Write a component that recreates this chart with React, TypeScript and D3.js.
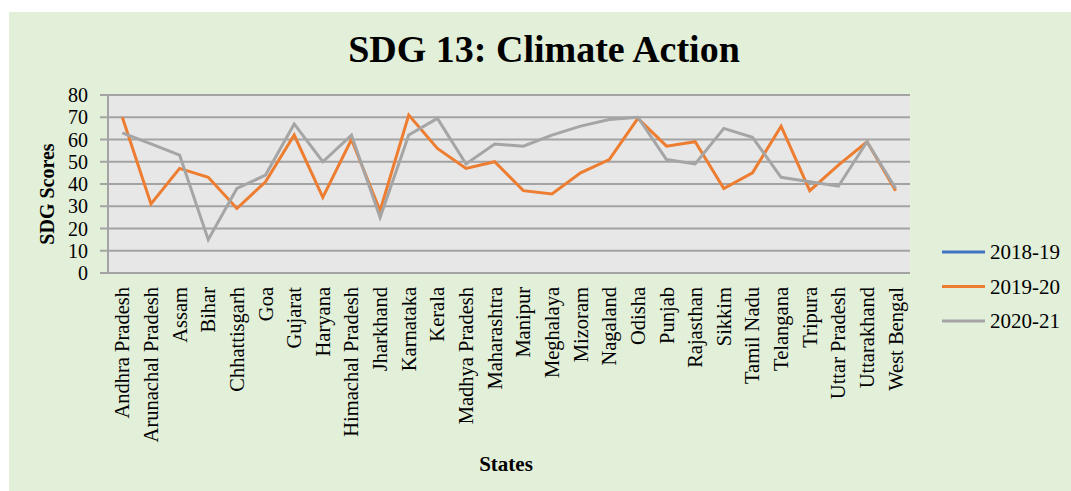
import { useEffect, useRef } from 'react';
import * as d3 from 'd3';

const states = [
  'Andhra Pradesh', 'Arunachal Pradesh', 'Assam', 'Bihar', 'Chhattisgarh', 'Goa', 'Gujarat',
  'Haryana', 'Himachal Pradesh', 'Jharkhand', 'Karnataka', 'Kerala', 'Madhya Pradesh',
  'Maharashtra', 'Manipur', 'Meghalaya', 'Mizoram', 'Nagaland', 'Odisha', 'Punjab',
  'Rajasthan', 'Sikkim', 'Tamil Nadu', 'Telangana', 'Tripura', 'Uttar Pradesh',
  'Uttarakhand', 'West Bengal',
];

// 2018-19 is in the legend but has no visible line in the source
const scores2018_19: number[] = [];
const scores2019_20 = [70, 31, 47, 43, 29, 41, 62, 34, 60, 28, 71, 56, 47, 50, 37, 35.5, 45, 51, 69.5, 57, 59, 38, 45, 66, 37, 48.5, 59, 37];
const scores2020_21 = [63, 58, 53, 15, 38, 44, 67, 50, 62, 25, 62, 69.5, 49, 58, 57, 62, 66, 69, 70, 51, 49, 65, 61, 43, 41, 39, 59, 38];

const yTicks = [0, 10, 20, 30, 40, 50, 60, 70, 80];

const series = [
  { name: '2018-19', values: scores2018_19, color: '#4472C4' },
  { name: '2019-20', values: scores2019_20, color: '#ED7D31' },
  { name: '2020-21', values: scores2020_21, color: '#A5A5A5' },
];

const W = 1071, H = 491;
const FONT = '"Liberation Serif", "Times New Roman", serif';

export default function App() {
  const svgRef = useRef<SVGSVGElement>(null);

  useEffect(() => {
    const svg = d3.select(svgRef.current);
    svg.selectAll('*').remove();

    const left = 108, right = 910, top = 95, bottom = 273;
    const x = d3.scaleBand<string>().domain(states).range([left, right]).padding(0);
    const y = d3.scaleLinear().domain([0, 80]).range([bottom, top]);
    const cx = (s: string) => (x(s) ?? 0) + x.bandwidth() / 2;

    // panel background
    svg.append('rect').attr('x', 9).attr('y', 12).attr('width', W - 9).attr('height', H - 12)
      .attr('fill', '#E2EFD9');

    // title
    svg.append('text').attr('x', 544).attr('y', 62).attr('text-anchor', 'middle')
      .attr('font-family', FONT).attr('font-weight', 700).attr('font-size', 38)
      .attr('fill', '#000').text('SDG 13: Climate Action');

    // plot area
    svg.append('rect').attr('x', left).attr('y', top).attr('width', right - left).attr('height', bottom - top)
      .attr('fill', '#E7E7E7');

    const g = svg.append('g');
    g.selectAll('.grid').data(yTicks).join('line').attr('class', 'grid')
      .attr('x1', left - 8).attr('x2', right)
      .attr('y1', d => y(d)).attr('y2', d => y(d))
      .attr('stroke', '#A3A3A3').attr('stroke-width', 2);
    g.append('line').attr('x1', left).attr('x2', left).attr('y1', top).attr('y2', bottom)
      .attr('stroke', '#A3A3A3').attr('stroke-width', 2);

    g.selectAll('.ylab').data(yTicks).join('text').attr('class', 'ylab')
      .attr('x', 88).attr('y', d => y(d)).attr('dy', '0.35em').attr('text-anchor', 'end')
      .attr('font-family', FONT).attr('font-size', 20).attr('fill', '#000')
      .text(d => d);

    // y axis title
    svg.append('text').attr('transform', `translate(54,194) rotate(-90)`).attr('text-anchor', 'middle')
      .attr('font-family', FONT).attr('font-weight', 700).attr('font-size', 20).attr('fill', '#000')
      .text('SDG Scores');

    // category labels
    g.selectAll('.xlab').data(states).join('text').attr('class', 'xlab')
      .attr('transform', d => `translate(${cx(d) + 7},287) rotate(-90)`)
      .attr('text-anchor', 'end')
      .attr('font-family', FONT).attr('font-size', 20.5).attr('fill', '#000')
      .text(d => d);

    svg.append('text').attr('x', 506).attr('y', 471).attr('text-anchor', 'middle')
      .attr('font-family', FONT).attr('font-weight', 700).attr('font-size', 21).attr('fill', '#000')
      .text('States');

    // lines
    const line = d3.line<number>()
      .x((_, i) => cx(states[i]))
      .y(d => y(d));
    series.forEach(s => {
      if (!s.values.length) return;
      g.append('path').datum(s.values).attr('d', line)
        .attr('fill', 'none').attr('stroke', s.color).attr('stroke-width', 3)
        .attr('stroke-linejoin', 'miter');
    });

    // legend
    const leg = svg.append('g').attr('transform', 'translate(942,252)');
    series.forEach((s, i) => {
      leg.append('line').attr('x1', 0).attr('x2', 43).attr('y1', i * 34.5).attr('y2', i * 34.5)
        .attr('stroke', s.color).attr('stroke-width', 3);
      leg.append('text').attr('x', 48).attr('y', i * 34.5).attr('dy', '0.35em')
        .attr('font-family', FONT).attr('font-size', 21).attr('fill', '#000')
        .text(s.name);
    });
  }, []);

  return (
    <svg ref={svgRef} width={W} height={H}
      style={{ position: 'absolute', left: 0, top: 0, background: '#fff' }} />
  );
}
